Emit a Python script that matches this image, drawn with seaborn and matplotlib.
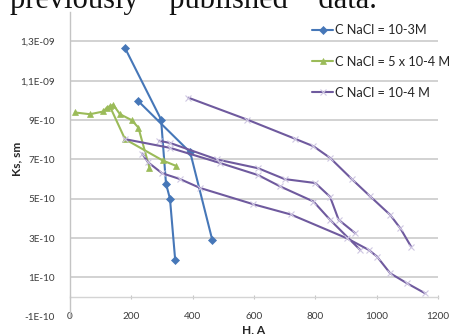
import numpy as np
import pandas as pd
import matplotlib
matplotlib.use("Agg")
import matplotlib.pyplot as plt
import seaborn as sns

# ---- data -------------------------------------------------------------
series_names = ["C NaCl = 10-3M", "C NaCl = 5 x 10-4 M", "C NaCl = 10-4 M"]

# C NaCl = 10-3 M (two runs)
h_a1 = [180, 297, 313, 326, 343]
ks_a1 = [12.65e-10, 9.03e-10, 5.77e-10, 5.00e-10, 1.89e-10]
h_a2 = [223, 392, 464]
ks_a2 = [9.96e-10, 7.36e-10, 2.90e-10]

# C NaCl = 5 x 10-4 M (two runs)
h_b1 = [16, 65, 109, 120, 141, 163, 201, 223, 259]
ks_b1 = [9.39e-10, 9.30e-10, 9.44e-10, 9.64e-10, 9.78e-10, 9.30e-10, 9.00e-10, 8.62e-10, 6.58e-10]
h_b2 = [130, 179.5, 302, 346]
ks_b2 = [9.70e-10, 8.03e-10, 6.95e-10, 6.67e-10]

# C NaCl = 10-4 M (four runs)
h_c1 = [386, 577, 734, 794, 848, 919, 979, 1044, 1077, 1112]
ks_c1 = [10.14e-10, 9.03e-10, 8.05e-10, 7.67e-10, 7.08e-10, 6.00e-10, 5.12e-10, 4.18e-10, 3.50e-10, 2.57e-10]
h_c2 = [290, 326, 479, 614, 700, 800, 848, 876, 930]
ks_c2 = [7.95e-10, 7.84e-10, 7.00e-10, 6.55e-10, 6.00e-10, 5.80e-10, 5.10e-10, 3.93e-10, 3.25e-10]
h_c3 = [180, 326, 489, 614, 685, 794, 848, 946]
ks_c3 = [8.03e-10, 7.59e-10, 6.82e-10, 6.20e-10, 5.63e-10, 4.86e-10, 3.93e-10, 2.40e-10]
h_c4 = [235, 255, 300, 359, 424, 598, 720, 903, 974, 1001, 1044, 1099, 1158]
ks_c4 = [7.30e-10, 6.85e-10, 6.30e-10, 6.00e-10, 5.55e-10, 4.72e-10, 4.20e-10, 2.99e-10, 2.40e-10, 2.06e-10, 1.21e-10, 0.70e-10, 0.19e-10]

y_ticks = [-1e-10, 1e-10, 3e-10, 5e-10, 7e-10, 9e-10, 11e-10, 13e-10]
y_tick_labels = ["-1E-10", "1E-10", "3E-10", "5E-10", "7E-10", "9E-10", "1,1E-09", "1,3E-09"]
x_ticks = [0, 200, 400, 600, 800, 1000, 1200]
caption_words = ["previously", "published", "data."]

runs = [
    (series_names[0], "a1", h_a1, ks_a1),
    (series_names[0], "a2", h_a2, ks_a2),
    (series_names[1], "b1", h_b1, ks_b1),
    (series_names[1], "b2", h_b2, ks_b2),
    (series_names[2], "c1", h_c1, ks_c1),
    (series_names[2], "c2", h_c2, ks_c2),
    (series_names[2], "c3", h_c3, ks_c3),
    (series_names[2], "c4", h_c4, ks_c4),
]
df = pd.concat(
    [pd.DataFrame({"H": h, "Ks": k, "series": s, "run": r}) for s, r, h, k in runs],
    ignore_index=True,
)

# ---- styling ------------------------------------------------------------
sns.set_style("white")
plt.rcParams["font.family"] = ["Lato", "DejaVu Sans"]

colors = {series_names[0]: "#4677b8", series_names[1]: "#9bbb59", series_names[2]: "#6f5a9e"}
markers = {series_names[0]: "D", series_names[1]: "^", series_names[2]: "x"}
marker_edge = {series_names[0]: "#4677b8", series_names[1]: "#9bbb59", series_names[2]: "#cfc7e2"}
marker_size = {series_names[0]: 4.2, series_names[1]: 5.0, series_names[2]: 4.0}

fig = plt.figure(figsize=(4.56, 3.34), dpi=100)
ax = fig.add_axes([70 / 456, 17.3 / 334, 368 / 456, 304.7 / 334])

sns.lineplot(
    data=df, x="H", y="Ks", hue="series", units="run",
    estimator=None, sort=False, palette=colors, linewidth=1.5, ax=ax,
)

def restyle(line, name):
    line.set_marker(markers[name])
    line.set_markeredgecolor(marker_edge[name])
    line.set_markerfacecolor(colors[name])
    line.set_markersize(marker_size[name])
    line.set_markeredgewidth(0.8 if name == series_names[2] else 0.5)

color_to_name = {matplotlib.colors.to_hex(c): n for n, c in colors.items()}
for line in ax.lines:
    name = color_to_name.get(matplotlib.colors.to_hex(line.get_color()))
    if name:
        restyle(line, name)

ax.set_xlim(0, 1200)
ax.set_ylim(-1e-10, 14.5e-10)
ax.set_xticks(x_ticks)
ax.set_xticklabels([str(v) for v in x_ticks])
ax.set_yticks(y_ticks)
ax.set_yticklabels(y_tick_labels)
ax.tick_params(axis="both", length=0, labelsize=7.2, labelcolor="#3c3c3c")
ax.tick_params(axis="y", pad=11)
ax.tick_params(axis="x", pad=0)
for lab in ax.get_xticklabels():
    lab.set_va("center")

ax.yaxis.grid(True, color="#cfcfcf", linewidth=1.3)
ax.xaxis.grid(False)
ax.get_ygridlines()[0].set_visible(False)
ax.set_axisbelow(True)

for side in ["top", "right", "bottom"]:
    ax.spines[side].set_visible(False)
ax.spines["left"].set_color("#c4c4c4")
ax.spines["left"].set_linewidth(1.0)

# horizontal axis line through zero with small tick marks
lo, hi = ax.get_ylim()
zero_axis = ax.secondary_xaxis((0 - lo) / (hi - lo))
zero_axis.set_xticks(x_ticks)
zero_axis.tick_params(axis="x", length=3, direction="inout", color="#c4c4c4",
                      labelbottom=False, labeltop=False)
zero_axis.spines["bottom"].set_color("#d4d4d4")
zero_axis.spines["bottom"].set_linewidth(1.0)

ax.set_xlabel("H, A", fontsize=8.6, fontweight="bold", color="#262626")
ax.set_ylabel("Ks, sm", fontsize=8.6, fontweight="bold", color="#262626")
ax.xaxis.set_label_coords(0.5, -0.024)
ax.yaxis.set_label_coords(-0.13, 0.517)

handles, labels = ax.get_legend_handles_labels()
for h, l in zip(handles, labels):
    if l in colors:
        h.set_color(colors[l])
        restyle(h, l)
leg = ax.legend(
    handles, labels, loc="upper left", bbox_to_anchor=(312 / 456, 1 - 24.5 / 334),
    bbox_transform=fig.transFigure, frameon=False, fontsize=9.2,
    handlelength=1.65, handletextpad=0.15, labelspacing=1.5,
    borderpad=0, borderaxespad=0,
)
for t in leg.get_texts():
    t.set_color("#262626")

# justified caption line above the chart
fig.text(10 / 456, 1 - 8.3 / 334, "    ".join(caption_words), family="Liberation Serif",
         fontsize=22, va="baseline", ha="left", color="#111111")

fig.savefig("out.png", dpi=100)
